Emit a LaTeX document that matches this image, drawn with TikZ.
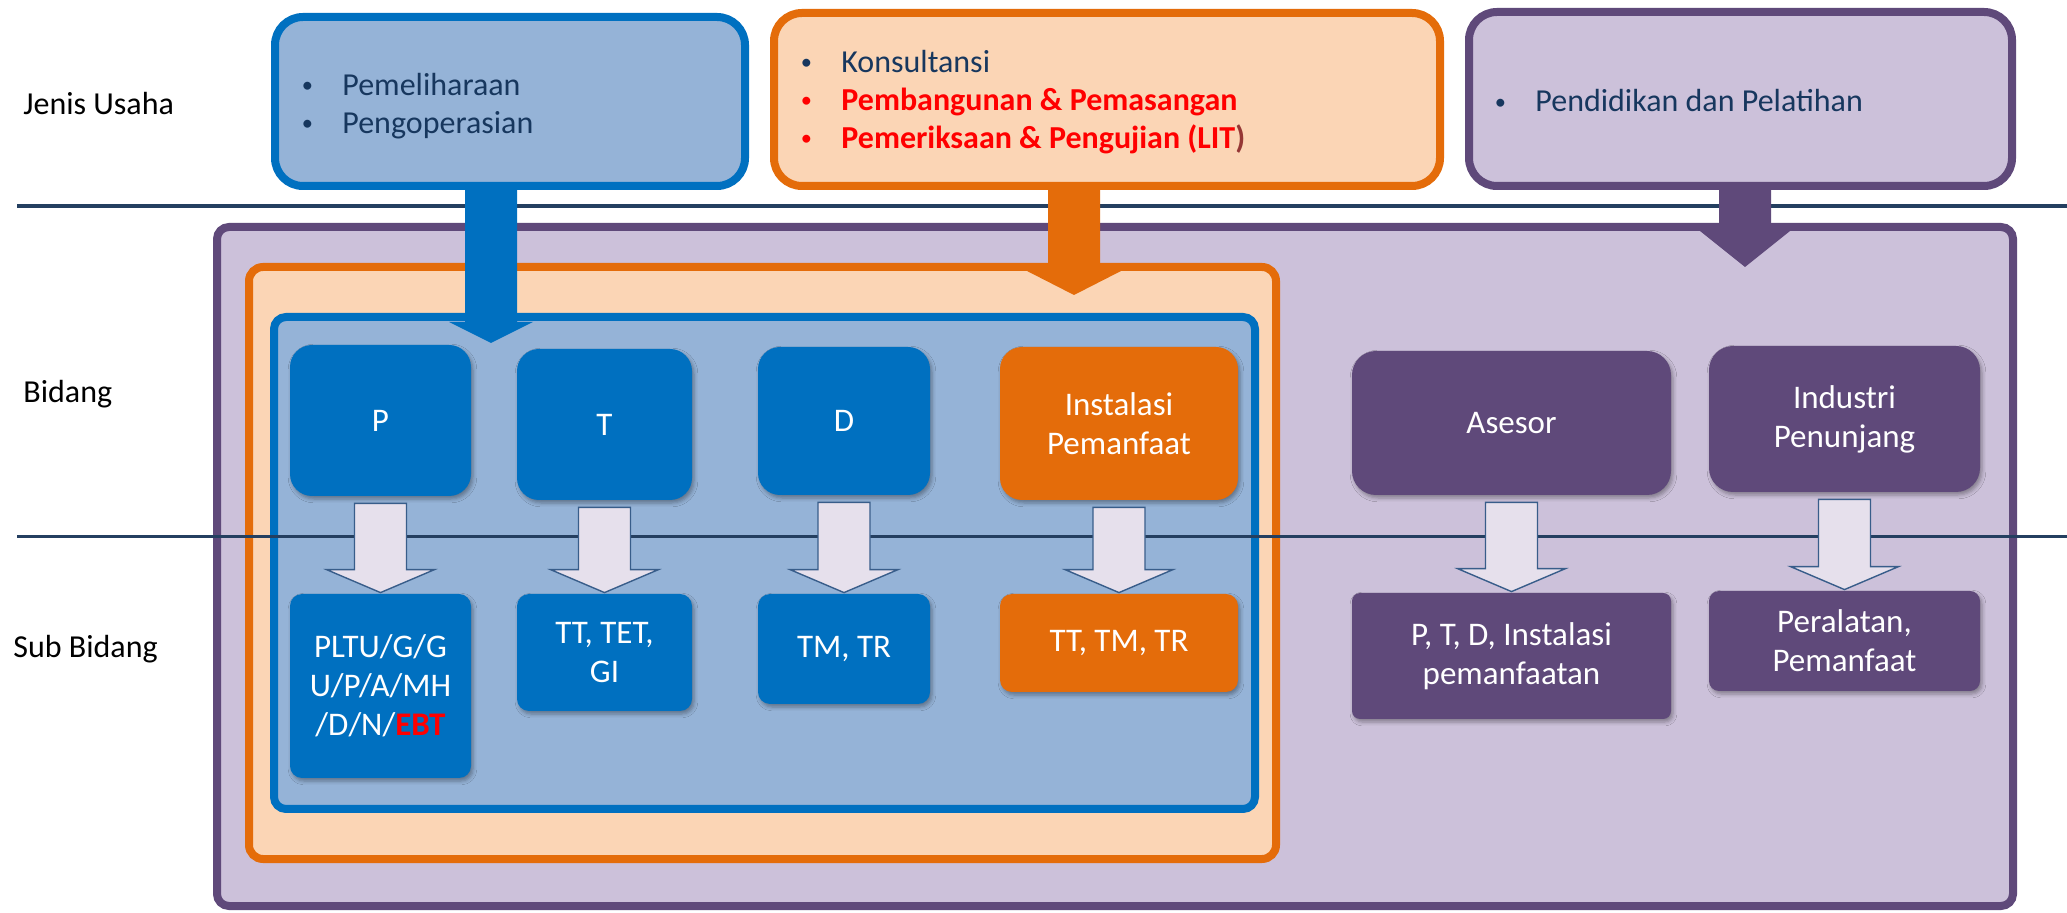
\documentclass[tikz,border=0pt]{standalone}
\usepackage{fontspec}
\setmainfont{Carlito}
\usetikzlibrary{calc,shadows.blur}
\definecolor{usblue}{HTML}{0070C0}
\definecolor{lightblue}{HTML}{95B3D7}
\definecolor{usorange}{HTML}{E46C0A}
\definecolor{peach}{HTML}{FBD5B5}
\definecolor{frmpurple}{HTML}{5F497A}
\definecolor{lavender}{HTML}{CCC1DA}
\definecolor{bullnavy}{HTML}{17375E}
\definecolor{sepnavy}{HTML}{243F60}
\definecolor{usred}{HTML}{FF0000}
\definecolor{darkred}{HTML}{953735}
\definecolor{arrowfill}{HTML}{E6E0EC}
\definecolor{arrowedge}{HTML}{385D8A}
\newcommand{\itembul}{\makebox[21.5pt][l]{\hspace{1.2pt}\raisebox{0.08em}{\scalebox{0.7}{\textbullet}}}}

\begin{document}
\begin{tikzpicture}[
    x=0.5pt, y=-0.5pt,
    font=\fontsize{16}{19}\selectfont,
    frame/.style={draw, line width=4pt, rounded corners=6pt, inner sep=0pt},
    usaha/.style={frame, rounded corners=14pt},
    bidbox/.style={fill=#1, draw=none, rounded corners=11pt, text=white, align=center, inner sep=2pt,
        font=\fontsize{16.5}{19.5}\selectfont,
        blur shadow={shadow xshift=1pt, shadow yshift=-1.5pt, shadow blur steps=4, shadow opacity=35}},
    subbox/.style={bidbox=#1, rounded corners=6pt},
    sepline/.style={draw=sepnavy},
    downarrow/.style={fill=arrowfill, draw=arrowedge, line width=0.7pt, line join=miter},
    bullettext/.style={anchor=west, align=left, inner sep=0pt, text=bullnavy},
    sidelabel/.style={anchor=base west, inner sep=0pt, text=black}
]

\useasboundingbox (0,0) rectangle (2067,913);
\fill[white] (0,0) rectangle (2067,913);

% Containers
\node[frame, draw=frmpurple, fill=lavender, minimum width=898pt, minimum height=339.5pt] (bidangall) at (1115,566.5) {};
\node[frame, draw=usorange, fill=peach, rounded corners=7pt, minimum width=513.5pt, minimum height=296pt] (lit) at (762.5,563) {};
\node[frame, draw=usblue, fill=lightblue, minimum width=490.5pt, minimum height=246pt] (ptd) at (764.5,563) {};

% Jenis usaha boxes
\node[usaha, draw=usblue, fill=lightblue, minimum width=235pt, minimum height=84.5pt] (ubiru) at (510,101.5) {};
\node[usaha, draw=usorange, fill=peach, minimum width=333pt, minimum height=86.5pt] (uoranye) at (1107,99.5) {};
\node[usaha, draw=frmpurple, fill=lavender, minimum width=271.5pt, minimum height=87pt] (uungu) at (1740.5,99) {};

\node[bullettext] (tbiru) at (299,106) {\itembul Pemeliharaan\\\itembul Pengoperasian};
\node[bullettext] (toranye) at (798,102) {\itembul Konsultansi\\
    \textcolor{usred}{\itembul\textbf{Pembangunan \& Pemasangan}}\\
    \textcolor{usred}{\itembul\textbf{Pemeriksaan \& Pengujian (LIT}}\textcolor{darkred}{\textbf{)}}};
\node[bullettext] (tungu) at (1492,101) {\itembul Pendidikan dan Pelatihan};

% Separator lines
\draw[sepline, line width=2pt] (17,206.5) -- (2067,206.5);
\draw[sepline, line width=1.25pt] (17,536.5) -- (2067,536.5);

% Row labels
\node[sidelabel] (ljenis) at (23,115) {Jenis Usaha};
\node[sidelabel] (lbidang) at (23,403) {Bidang};
\node[sidelabel] (lsub) at (13,658) {Sub Bidang};

% Bidang
\node[bidbox=usblue, minimum width=90.5pt, minimum height=75.5pt] (bp) at (380.5,420.5) {P};
\node[bidbox=usblue, minimum width=87.5pt, minimum height=75.5pt] (bt) at (604.5,424.5) {T};
\node[bidbox=usblue, minimum width=86pt, minimum height=74pt] (bd) at (844,421) {D};
\node[bidbox=usorange, minimum width=119pt, minimum height=76.5pt] (bi) at (1119,423.5) {Instalasi\\Pemanfaat};
\node[bidbox=frmpurple, rounded corners=12pt, minimum width=159.5pt, minimum height=72pt] (ba) at (1511.5,423) {Asesor};
\node[bidbox=frmpurple, rounded corners=12pt, minimum width=135.5pt, minimum height=73pt] (bn) at (1844.5,419) {Industri\\Penunjang};

% Sub bidang
\node[subbox=usblue, minimum width=90.5pt, minimum height=92pt] (sp) at (380.5,686) {PLTU/G/G\\U/P/A/MH\\/D/N/\textcolor{usred}{\textbf{EBT}}};
\node[subbox=usblue, minimum width=87.5pt, minimum height=58.5pt] (st) at (604.5,652.5) {TT, TET,\\GI};
\node[subbox=usblue, minimum width=86pt, minimum height=55pt] (sd) at (844,649) {TM, TR};
\node[subbox=usorange, minimum width=119pt, minimum height=49pt] (si) at (1119,643) {TT, TM, TR};
\node[subbox=frmpurple, rounded corners=4pt, minimum width=159.5pt, minimum height=63pt] (sa) at (1511.5,656) {P, T, D, Instalasi\\pemanfaatan};
\node[subbox=frmpurple, rounded corners=5pt, minimum width=135.5pt, minimum height=50pt] (sn) at (1844.5,641) {Peralatan,\\Pemanfaat};

% White block arrows
\foreach \a/\b in {bp/sp, bt/st, bd/sd, bi/si, ba/sa, bn/sn}
  \draw[downarrow] let \p1=(\a.south), \p2=(\b.north) in
    (\x2-13pt,\y1-3.5pt) -- (\x2-13pt,\y2+12pt) -- (\x2-27pt,\y2+12pt) -- (\x2,\y2+0.5pt)
    -- (\x2+27pt,\y2+12pt) -- (\x2+13pt,\y2+12pt) -- (\x2+13pt,\y1-3.5pt) -- cycle;

% Connectors from jenis usaha
\coordinate (ujungbiru) at (491,343);
\coordinate (ujungoranye) at (1074,295);
\coordinate (ujungungu) at (1745,267);
\foreach \src/\ujung/\col/\hh/\hw in {ubiru/ujungbiru/usblue/10.5pt/21pt, uoranye/ujungoranye/usorange/12pt/23.5pt, uungu/ujungungu/frmpurple/18pt/22.5pt}
  \fill[fill=\col] let \p1=(\ujung), \p2=(\src.south) in
    (\x1-13pt,\y2+3pt) -- (\x1-13pt,\y1+\hh) -- (\x1-\hw,\y1+\hh) -- (\x1,\y1)
    -- (\x1+\hw,\y1+\hh) -- (\x1+13pt,\y1+\hh) -- (\x1+13pt,\y2+3pt) -- cycle;

\end{tikzpicture}
\end{document}
